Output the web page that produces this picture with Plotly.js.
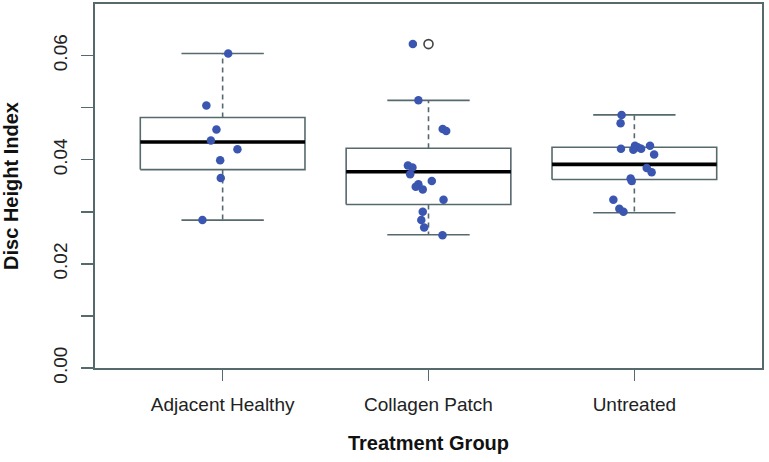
<!DOCTYPE html>
<html>
<head>
<meta charset="utf-8">
<script src="https://cdn.plot.ly/plotly-3.0.1.min.js"></script>
<style>html,body{margin:0;padding:0;background:#fff;}#chart{width:769px;height:462px;}</style>
</head>
<body>
<div id="chart"></div>
<script>
// ---- data ----
const categories = ['Adjacent Healthy', 'Collagen Patch', 'Untreated'];

// box statistics (R boxplot: whiskers, hinges, median)
const lowerWhisker = [0.0284, 0.0256, 0.0298];
const q1           = [0.0381, 0.0314, 0.0362];
const median       = [0.0434, 0.0377, 0.0391];
const q3           = [0.0481, 0.0422, 0.0424];
const upperWhisker = [0.0604, 0.0514, 0.0486];

// outliers drawn by the boxplot (open circles)
const outlierGroup = [1];
const outlierValue = [0.0622];

// individual observations (stripchart, jittered horizontally)
const adjacentValues = [0.0604, 0.0504, 0.0458, 0.0437, 0.0420, 0.0399, 0.0365, 0.0284];
const adjacentJitter = [0.027, -0.079, -0.030, -0.057, 0.072, -0.012, -0.009, -0.098];

const collagenValues = [0.0622, 0.0514, 0.0459, 0.0455, 0.0389, 0.0385, 0.0372, 0.0359,
                        0.0353, 0.0348, 0.0343, 0.0323, 0.0300, 0.0284, 0.0270, 0.0255];
const collagenJitter = [-0.076, -0.049, 0.069, 0.086, -0.100, -0.078, -0.089, 0.016,
                        -0.049, -0.062, -0.028, 0.073, -0.028, -0.035, -0.021, 0.068];

const untreatedValues = [0.0486, 0.0470, 0.0421, 0.0427, 0.0424, 0.0419, 0.0421, 0.0427,
                         0.0410, 0.0384, 0.0376, 0.0364, 0.0359, 0.0323, 0.0306, 0.0300];
const untreatedJitter = [-0.062, -0.067, -0.065, 0.003, 0.016, -0.005, 0.033, 0.076,
                         0.096, 0.060, 0.084, -0.018, -0.013, -0.102, -0.073, -0.053];

const yTickVals = [0, 0.01, 0.02, 0.03, 0.04, 0.05, 0.06];
const yTickText = ['0.00', '', '0.02', '', '0.04', '', '0.06'];

// ---- styling ----
const boxColor = '#56696d';
const pointColor = '#3a56b0';
const halfBox = 0.4, halfCap = 0.2;
const fontFamily = '"Liberation Sans", Arial, Helvetica, sans-serif';

const traces = [];

// boxes (white fill, grey outline)
const bx = [], by = [];
categories.forEach((c, i) => {
  bx.push(i - halfBox, i + halfBox, i + halfBox, i - halfBox, i - halfBox, null);
  by.push(q1[i], q1[i], q3[i], q3[i], q1[i], null);
});
traces.push({x: bx, y: by, type: 'scatter', mode: 'lines', fill: 'toself', fillcolor: '#ffffff',
  line: {color: boxColor, width: 1.6}, hoverinfo: 'skip', showlegend: false});

// dashed whiskers
const wx = [], wy = [];
categories.forEach((c, i) => {
  wx.push(i, i, null, i, i, null);
  wy.push(q3[i], upperWhisker[i], null, q1[i], lowerWhisker[i], null);
});
traces.push({x: wx, y: wy, type: 'scatter', mode: 'lines',
  line: {color: boxColor, width: 1.6, dash: '5px,4px'}, hoverinfo: 'skip', showlegend: false});

// staples
const sx = [], sy = [];
categories.forEach((c, i) => {
  sx.push(i - halfCap, i + halfCap, null, i - halfCap, i + halfCap, null);
  sy.push(upperWhisker[i], upperWhisker[i], null, lowerWhisker[i], lowerWhisker[i], null);
});
traces.push({x: sx, y: sy, type: 'scatter', mode: 'lines',
  line: {color: boxColor, width: 1.6}, hoverinfo: 'skip', showlegend: false});

// medians
const mx = [], my = [];
categories.forEach((c, i) => {
  mx.push(i - halfBox, i + halfBox, null);
  my.push(median[i], median[i], null);
});
traces.push({x: mx, y: my, type: 'scatter', mode: 'lines',
  line: {color: '#000000', width: 3.6}, hoverinfo: 'skip', showlegend: false});

// outliers
traces.push({x: outlierGroup, y: outlierValue, type: 'scatter', mode: 'markers',
  marker: {symbol: 'circle-open', size: 9, color: '#444444', line: {width: 1.6, color: '#444444'}},
  showlegend: false});

// observations
const groups = [[adjacentValues, adjacentJitter], [collagenValues, collagenJitter], [untreatedValues, untreatedJitter]];
groups.forEach((g, i) => {
  traces.push({
    x: g[1].map(j => i + j), y: g[0], type: 'scatter', mode: 'markers',
    name: categories[i],
    marker: {color: pointColor, size: 8.5, line: {width: 0}},
    showlegend: false
  });
});

const layout = {
  width: 769, height: 462,
  margin: {l: 95, r: 7, t: 4, b: 94},
  paper_bgcolor: '#ffffff', plot_bgcolor: '#ffffff',
  font: {family: fontFamily, color: '#222222', size: 19},
  showlegend: false,
  xaxis: {
    range: [-0.62, 2.62], tickvals: [0, 1, 2], ticktext: categories,
    showgrid: false, zeroline: false, automargin: false,
    showline: true, mirror: true, linecolor: boxColor, linewidth: 1.8,
    ticks: 'outside', ticklen: 11, tickwidth: 1.5, tickcolor: boxColor,
    ticklabelstandoff: 7,
    tickfont: {size: 19, color: '#222222'},
    title: {text: 'Treatment Group', font: {size: 20, color: '#111111', weight: 'bold', family: fontFamily}, standoff: 22}
  },
  yaxis: {
    range: [0, 0.0699], tickvals: yTickVals, ticktext: yTickText,
    showgrid: false, zeroline: false, automargin: false,
    showline: true, mirror: true, linecolor: boxColor, linewidth: 1.8,
    ticks: 'outside', ticklen: 12, tickwidth: 1.5, tickcolor: boxColor,
    tickangle: -90, ticklabelstandoff: 7,
    tickfont: {size: 19, color: '#222222'},
    title: {text: 'Disc Height Index', font: {size: 20, color: '#111111', weight: 'bold', family: fontFamily}, standoff: 30}
  }
};

Plotly.newPlot('chart', traces, layout, {displayModeBar: false, staticPlot: true});
</script>
</body>
</html>
